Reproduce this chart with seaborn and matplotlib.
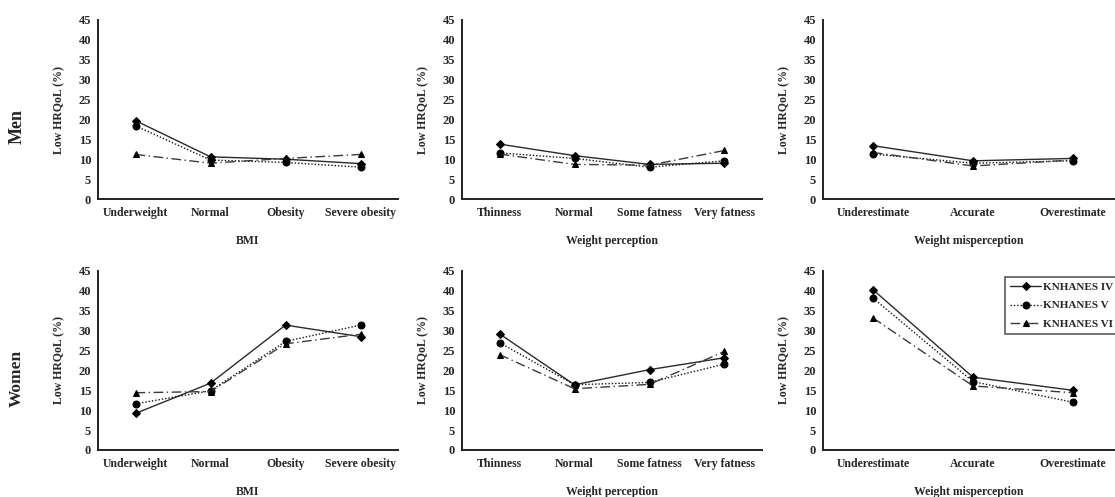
import matplotlib
matplotlib.use("Agg")
import matplotlib.pyplot as plt
import seaborn as sns
import pandas as pd

# ---- data ----
waves = ["KNHANES IV", "KNHANES V", "KNHANES VI"]

bmi_cats = ["Underweight", "Normal", "Obesity", "Severe obesity"]
wp_cats = ["Thinness", "Normal", "Some fatness", "Very fatness"]
wm_cats = ["Underestimate", "Accurate", "Overestimate"]

men_bmi_iv = [19.7, 10.6, 10.0, 8.9]
men_bmi_v = [18.4, 9.8, 9.2, 8.0]
men_bmi_vi = [11.2, 9.0, 10.2, 11.2]

men_wp_iv = [13.8, 10.9, 8.7, 9.0]
men_wp_v = [11.6, 10.2, 8.0, 9.6]
men_wp_vi = [11.3, 8.7, 8.5, 12.2]

men_wm_iv = [13.4, 9.6, 10.2]
men_wm_v = [11.3, 9.0, 9.6]
men_wm_vi = [11.7, 8.3, 9.8]

women_bmi_iv = [9.2, 16.8, 31.4, 28.5]
women_bmi_v = [11.6, 14.9, 27.3, 31.4]
women_bmi_vi = [14.4, 14.7, 26.7, 29.1]

women_wp_iv = [29.2, 16.4, 20.2, 23.2]
women_wp_v = [27.0, 16.4, 17.0, 21.6]
women_wp_vi = [24.0, 15.4, 16.5, 24.8]

women_wm_iv = [40.3, 18.3, 15.0]
women_wm_v = [38.2, 17.2, 12.0]
women_wm_vi = [33.2, 16.1, 14.4]

y_ticks = [0, 5, 10, 15, 20, 25, 30, 35, 40, 45]
row_labels = ["Men", "Women"]
x_titles = ["BMI", "Weight perception", "Weight misperception"]
y_title = "Low HRQoL (%)"

# ---- style ----
sns.set_theme(style="white")
plt.rcParams["font.family"] = ["Liberation Serif", "DejaVu Serif"]
plt.rcParams["font.weight"] = "bold"

fig = plt.figure(figsize=(11.15, 4.97), dpi=100)

W, H = 1115.0, 497.0
rows_px = [(20, 199), (271, 450)]
cols_px = [(98, 398, 3.5), (462, 762, 3.5), (823, 1115, 2.42)]

panels = [
    [(bmi_cats, men_bmi_iv, men_bmi_v, men_bmi_vi),
     (wp_cats, men_wp_iv, men_wp_v, men_wp_vi),
     (wm_cats, men_wm_iv, men_wm_v, men_wm_vi)],
    [(bmi_cats, women_bmi_iv, women_bmi_v, women_bmi_vi),
     (wp_cats, women_wp_iv, women_wp_v, women_wp_vi),
     (wm_cats, women_wm_iv, women_wm_v, women_wm_vi)],
]

palette = {waves[0]: "#2a2a2a", waves[1]: "#111111", waves[2]: "#3a3a3a"}
markers = {waves[0]: "D", waves[1]: "o", waves[2]: "^"}
dashes = {waves[0]: "", waves[1]: (1, 1.4), waves[2]: (7, 2.5, 1, 2.5)}

last_ax = None
for r, (yt, yb) in enumerate(rows_px):
    for c, (xl, xr, xmax) in enumerate(cols_px):
        cats, a, b, d = panels[r][c]
        df = pd.DataFrame({
            "cat": cats * 3,
            "val": a + b + d,
            "wave": [waves[0]] * len(cats) + [waves[1]] * len(cats) + [waves[2]] * len(cats),
        })
        ax = fig.add_axes([xl / W, (H - yb) / H, (xr - xl) / W, (yb - yt) / H])
        sns.lineplot(data=df, x="cat", y="val", hue="wave", style="wave",
                     palette=palette, markers=markers, dashes=dashes,
                     markersize=5, markeredgecolor="black", linewidth=1.0,
                     sort=False, legend=False, ax=ax)
        for ln, w in zip(ax.lines, waves):
            ln.set_markerfacecolor("black")
            ln.set_markeredgecolor("black")
            if w == waves[0]:
                ln.set_markersize(4)
        ax.set_xlim(-0.5, xmax)
        ax.set_ylim(0, 45)
        ax.set_yticks(y_ticks)
        ax.set_yticklabels([str(t) for t in y_ticks], fontsize=9, fontweight="bold")
        ax.set_xticks(range(len(cats)))
        ax.set_xticklabels(cats, fontsize=8.5, fontweight="bold")
        ax.tick_params(axis="y", length=0, pad=5)
        ax.tick_params(axis="x", length=0, pad=6)
        for s in ["top", "right"]:
            ax.spines[s].set_visible(False)
        for s in ["left", "bottom"]:
            ax.spines[s].set_color("#222222")
            ax.spines[s].set_linewidth(1.4)
        ax.set_ylabel(y_title, fontsize=8.5, fontweight="bold")
        ax.yaxis.set_label_coords(-33.0 / (xr - xl), 0.5)
        ax.set_xlabel(x_titles[c], fontsize=8.5, fontweight="bold")
        ax.xaxis.set_label_coords(0.5, -0.2)
        ax.set_facecolor("white")
        last_ax = ax

leg = last_ax.legend(handles=last_ax.lines[:3], labels=waves,
                     loc="upper left", bbox_to_anchor=(1005 / W, 1 - 277 / H),
                     bbox_transform=fig.transFigure, frameon=True, fancybox=False,
                     edgecolor="#333333", handlelength=2.8,
                     borderpad=0.45, labelspacing=0.8, handletextpad=0.2,
                     borderaxespad=0.0,
                     prop={"weight": "bold", "size": 8})
leg.get_frame().set_linewidth(1.2)

fig.text(17 / W, 1 - 127 / H, row_labels[0], rotation=90, ha="center", va="center",
         fontsize=13, fontweight="bold")
fig.text(17 / W, 1 - 378 / H, row_labels[1], rotation=90, ha="center", va="center",
         fontsize=12.5, fontweight="bold")

fig.savefig("out.png", dpi=100, facecolor="white")
